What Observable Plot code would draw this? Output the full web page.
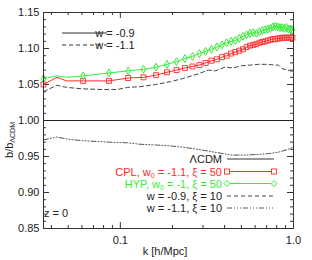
<!DOCTYPE html>
<html><head><meta charset="utf-8">
<script src="https://cdn.jsdelivr.net/npm/d3@7"></script>
<script src="https://cdn.jsdelivr.net/npm/@observablehq/plot@0.6"></script>
<style>body{margin:0;background:#fff}svg{display:block}</style>
</head><body><div id="chart"></div>
<script>
// ---- data ----
const kLine = [0.036,0.043,0.049,0.061,0.086,0.111,0.136,0.161,0.186,0.211,0.236,0.261,0.286,0.311,0.336,0.361,0.386,0.411,0.436,0.461,0.486,0.511,0.536,0.561,0.586,0.611,0.636,0.661,0.686,0.711,0.736,0.761,0.786,0.811,0.836,0.861,0.886,0.911,0.936,0.961,0.986,1.0];
const kMarks = [0.036,0.061,0.086,0.111,0.136,0.161,0.186,0.211,0.236,0.261,0.286,0.311,0.336,0.361,0.386,0.411,0.436,0.461,0.486,0.511,0.536,0.561,0.586,0.611,0.636,0.661,0.686,0.711,0.736,0.761,0.786,0.811,0.836,0.861,0.886,0.911,0.936,0.961,0.986];
const cplV = [1.050,1.060,1.055,1.055,1.055,1.059,1.060,1.063,1.067,1.070,1.073,1.075,1.077,1.080,1.083,1.085,1.088,1.090,1.093,1.095,1.097,1.099,1.102,1.104,1.105,1.106,1.108,1.109,1.110,1.111,1.112,1.113,1.113,1.114,1.114,1.115,1.115,1.115,1.115,1.115,1.115,1.115];
const hypV = [1.058,1.062,1.060,1.062,1.066,1.069,1.071,1.074,1.078,1.082,1.086,1.089,1.093,1.096,1.099,1.102,1.105,1.108,1.110,1.111,1.114,1.117,1.119,1.121,1.122,1.121,1.123,1.125,1.126,1.127,1.128,1.130,1.131,1.130,1.129,1.129,1.128,1.129,1.127,1.127,1.126,1.126];
const kDash = [0.036,0.043,0.049,0.06,0.08,0.096,0.11,0.13,0.16,0.195,0.228,0.283,0.323,0.355,0.40,0.45,0.50,0.565,0.63,0.707,0.77,0.82,0.86,0.92,1.0];
const dashV = [1.040,1.049,1.046,1.044,1.043,1.043,1.046,1.047,1.050,1.054,1.058,1.065,1.070,1.069,1.074,1.073,1.076,1.077,1.078,1.078,1.077,1.077,1.072,1.070,1.068];
const kDot = [0.036,0.043,0.05,0.06,0.085,0.11,0.13,0.16,0.187,0.23,0.28,0.35,0.44,0.53,0.63,0.72,0.82,0.93,1.0];
const dotV = [0.973,0.977,0.974,0.972,0.970,0.969,0.967,0.966,0.965,0.963,0.960,0.956,0.952,0.952,0.953,0.954,0.956,0.960,0.963];
const kLcdm = [0.036, 1.0];
const lcdmV = [1.0, 1.0];
const yMajor = [0.85,0.90,0.95,1.00,1.05,1.10,1.15];
const yMinor = [0.86,0.87,0.88,0.89,0.91,0.92,0.93,0.94,0.96,0.97,0.98,0.99,1.01,1.02,1.03,1.04,1.06,1.07,1.08,1.09,1.11,1.12,1.13,1.14];
const kMajor = [0.1, 1.0];
const kMinor = [0.04,0.05,0.06,0.07,0.08,0.09,0.2,0.3,0.4,0.5,0.6,0.7,0.8,0.9];

// ---- build ----
const W = 312, H = 260, mL = 43, mR = 19, mT = 12, mB = 32;
const pw = W - mL - mR, ph = H - mT - mB;
const RED = "#ff2a2a", GREEN = "#33ee33", INK = "#333";
const FONT = "'Liberation Sans', Arial, Helvetica, sans-serif";
const rows = (ks, vs) => ks.map((k, i) => ({k, v: vs[i]}));
const markSet = new Set(kMarks);
const cpl = rows(kLine, cplV), hyp = rows(kLine, hypV);

const chart = Plot.plot({
  width: W, height: H,
  marginLeft: mL, marginRight: mR, marginTop: mT, marginBottom: mB,
  style: {fontFamily: FONT, fontSize: "11px", color: "#222", background: "#fff"},
  x: {type: "log", domain: [0.036, 1.0]},
  y: {domain: [0.85, 1.15]},
  marks: [
    Plot.tickY(yMajor, {insetRight: pw - 6, stroke: INK}),
    Plot.tickY(yMajor, {insetLeft: pw - 6, stroke: INK}),
    Plot.tickY(yMinor, {insetRight: pw - 3, stroke: INK}),
    Plot.tickY(yMinor, {insetLeft: pw - 3, stroke: INK}),
    Plot.tickX(kMajor, {insetTop: ph - 6, stroke: INK}),
    Plot.tickX(kMajor, {insetBottom: ph - 6, stroke: INK}),
    Plot.tickX(kMinor, {insetTop: ph - 3, stroke: INK}),
    Plot.tickX(kMinor, {insetBottom: ph - 3, stroke: INK}),
    Plot.line(rows(kLcdm, lcdmV), {x: "k", y: "v", stroke: "#222", strokeWidth: 1}),
    Plot.line(rows(kDash, dashV), {x: "k", y: "v", stroke: "#444", strokeWidth: 1, strokeDasharray: "4,3"}),
    Plot.line(rows(kDot, dotV), {x: "k", y: "v", stroke: "#555", strokeWidth: 1, strokeDasharray: "5,2,1,2,1,2,1,2"}),
    Plot.line(cpl, {x: "k", y: "v", stroke: RED, strokeWidth: 1}),
    Plot.dot(cpl.filter(d => markSet.has(d.k)), {x: "k", y: "v", symbol: "square", r: 2.8, stroke: RED, fill: "none", strokeWidth: 0.9}),
    Plot.line(hyp, {x: "k", y: "v", stroke: GREEN, strokeWidth: 1}),
    Plot.dot(hyp.filter(d => markSet.has(d.k)), {x: "k", y: "v", symbol: "diamond", r: 2.4, stroke: GREEN, fill: "none", strokeWidth: 1}),
    Plot.axisY(yMajor, {tickSize: 0, tickPadding: 4, tickFormat: d => d.toFixed(2), label: null}),
    Plot.axisX(kMajor, {tickSize: 0, tickPadding: 8, tickFormat: d => d.toFixed(1), label: null}),
    Plot.frame({stroke: INK})
  ]
});
document.getElementById("chart").append(chart);

// ---- annotations (legend, axis titles) ----
const svg = d3.select(chart);
const g = svg.append("g").attr("font-family", FONT).attr("font-size", 11);
// axis titles
g.append("text").attr("x", 165).attr("y", 255).attr("text-anchor", "middle").attr("fill", "#222").text("k [h/Mpc]");
const yl = g.append("text").attr("transform", "translate(13,140) rotate(-90)").attr("fill", "#222");
yl.append("tspan").text("b/b");
yl.append("tspan").attr("font-size", 7).attr("dy", 2).text("ΛCDM");
// top legend
g.append("line").attr("x1", 62).attr("x2", 107).attr("y1", 33).attr("y2", 33).attr("stroke", "#333");
g.append("text").attr("x", 115).attr("y", 37).attr("fill", "#222").text("w = -0.9");
g.append("line").attr("x1", 62).attr("x2", 107).attr("y1", 45).attr("y2", 45).attr("stroke", "#333").attr("stroke-dasharray", "4,3");
g.append("text").attr("x", 115).attr("y", 49).attr("fill", "#222").text("w = -1.1");
// z label
g.append("text").attr("x", 56).attr("y", 217).attr("fill", "#222").text("z = 0");
// bottom legend
const LX = 222, L1 = 227, L2 = 274;
function legText(y, color, parts) {
  const t = g.append("text").attr("x", LX).attr("y", y + 4).attr("text-anchor", "end").attr("fill", color);
  parts.forEach(p => {
    const s = t.append("tspan").text(p[0]);
    if (p[1] === "sub") s.attr("font-size", 7).attr("dy", 2);
    if (p[1] === "up") s.attr("dy", -2);
  });
}
legText(159, "#222", [["ΛCDM"]]);
g.append("line").attr("x1", L1).attr("x2", L2).attr("y1", 159).attr("y2", 159).attr("stroke", "#333");
legText(171.5, RED, [["CPL, w"], ["0", "sub"], [" = -1.1, ξ = 50", "up"]]);
g.append("line").attr("x1", L1).attr("x2", L2).attr("y1", 171.5).attr("y2", 171.5).attr("stroke", RED);
[L1, L2].forEach(x => g.append("rect").attr("x", x - 2.5).attr("y", 169).attr("width", 5).attr("height", 5).attr("fill", "#fff").attr("stroke", RED).attr("stroke-width", 0.9));
legText(183.5, GREEN, [["HYP, w"], ["0", "sub"], [" = -1, ξ = 50", "up"]]);
g.append("line").attr("x1", L1).attr("x2", L2).attr("y1", 183.5).attr("y2", 183.5).attr("stroke", GREEN);
[L1, L2].forEach(x => g.append("path").attr("d", `M${x},${183.5-3}L${x+3},183.5L${x},${183.5+3}L${x-3},183.5Z`).attr("fill", "#fff").attr("stroke", GREEN));
legText(196, "#222", [["w = -0.9, ξ = 10"]]);
g.append("line").attr("x1", L1).attr("x2", L2).attr("y1", 196).attr("y2", 196).attr("stroke", "#444").attr("stroke-dasharray", "4,3");
legText(208, "#222", [["w = -1.1, ξ = 10"]]);
g.append("line").attr("x1", L1).attr("x2", L2).attr("y1", 208).attr("y2", 208).attr("stroke", "#555").attr("stroke-dasharray", "5,2,1,2,1,2,1,2");
</script></body></html>
